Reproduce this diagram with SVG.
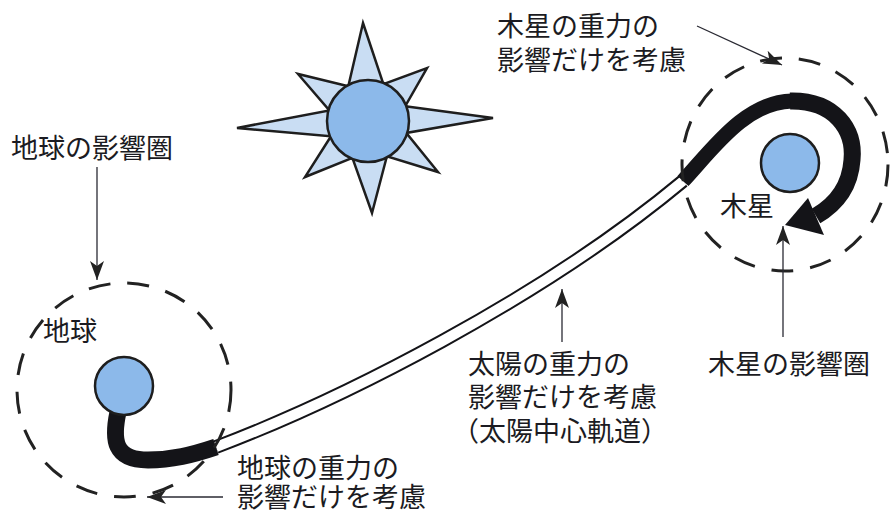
<svg xmlns="http://www.w3.org/2000/svg" width="893" height="514" viewBox="0 0 893 514">
  <style>
    .lbl { font-family: "Noto Sans CJK JP", "Noto Sans", sans-serif; font-size: 27px; fill: #1b1b22; }
    .ring { fill: none; stroke: #222; stroke-width: 3; stroke-dasharray: 22 17; }
    .body { fill: #8cb9ea; stroke: #1e1e1e; stroke-width: 2.5; }
    .ray { fill: #c9ddf3; stroke: #1e1e1e; stroke-width: 2.5; stroke-linejoin: miter; }
    .pointer { fill: none; stroke: #2a2a33; stroke-width: 1.3; marker-end: url(#tip); }
    .band { fill: none; stroke: #141418; stroke-linecap: butt; stroke-linejoin: round; }
  </style>
  <defs>
    <marker id="tip" markerUnits="userSpaceOnUse" viewBox="0 0 22 14" markerWidth="22" markerHeight="14" refX="20" refY="7" orient="auto">
      <path d="M20,7 L1,0 L6,7 L1,14 z" fill="#222"/>
    </marker>
  </defs>

  <rect width="893" height="514" fill="#ffffff"/>

  <!-- trajectory: Earth escape, heliocentric transfer, Jupiter swing -->
  <g id="trajectory">
    <path class="band" stroke-width="14" d="M216,447 C340,400 540,300 683,181"/>
    <path fill="none" stroke="#ffffff" stroke-width="10" d="M216,447 C340,400 540,300 683,181"/>
    <path class="band" stroke-width="17" d="M118,412 C112,440 114,460 148,460 C172,460 192,455 216,447"/>
    <path class="band" stroke-width="15" d="M683,181 C712,150 745,102 792,101"/>
    <path class="band" stroke-width="17" d="M790,101 C835,100 855,130 852,160 C850,188 835,205 816,216"/>
    <polygon points="785,225 808,198 824,235" fill="#141418"/>
  </g>

  <!-- Sun -->
  <g id="sun">
    <polygon class="ray" points="363,23 383.4,84.1 427,68 405.2,106.2 493,118 406.2,132.9 438,172 386.9,156.3 372,213 352.4,157.8 305,177 331,136.2 237,128 329.4,110.4 298,74 348.3,86.2"/>
    <circle class="body" cx="368" cy="121" r="41"/>
  </g>

  <!-- Earth -->
  <g id="earth">
    <circle class="ring" cx="124" cy="390" r="107"/>
    <circle class="body" cx="124" cy="386" r="29"/>
    <text class="lbl" x="43" y="341">地球</text>
  </g>

  <!-- Jupiter -->
  <g id="jupiter">
    <ellipse class="ring" cx="785" cy="164.5" rx="103" ry="106.5"/>
    <circle class="body" cx="790" cy="163" r="29"/>
    <text class="lbl" x="720" y="216">木星</text>
  </g>

  <!-- labels -->
  <g id="label-earth-sphere">
    <text class="lbl" x="11" y="158">地球の影響圏</text>
  </g>
  <g id="label-jupiter-sphere">
    <text class="lbl" x="708" y="374">木星の影響圏</text>
  </g>
  <g id="label-jupiter-gravity">
    <text class="lbl" x="497" y="36">木星の重力の<tspan x="497" dy="34">影響だけを考慮</tspan></text>
  </g>
  <g id="label-sun-gravity">
    <text class="lbl" x="468" y="374">太陽の重力の<tspan x="468" dy="33">影響だけを考慮</tspan><tspan x="452" dy="34">（太陽中心軌道）</tspan></text>
  </g>
  <g id="label-earth-gravity">
    <text class="lbl" x="237" y="478">地球の重力の<tspan x="237" dy="29">影響だけを考慮</tspan></text>
  </g>

  <!-- pointer arrows -->
  <g id="connectors">
    <line class="pointer" x1="97" y1="167" x2="97" y2="280"/>
    <line class="pointer" x1="223" y1="497" x2="147" y2="497"/>
    <line class="pointer" x1="562" y1="342" x2="562" y2="289"/>
    <line class="pointer" x1="697" y1="26" x2="782" y2="65"/>
    <line class="pointer" x1="783" y1="337" x2="783" y2="226"/>
  </g>
</svg>
